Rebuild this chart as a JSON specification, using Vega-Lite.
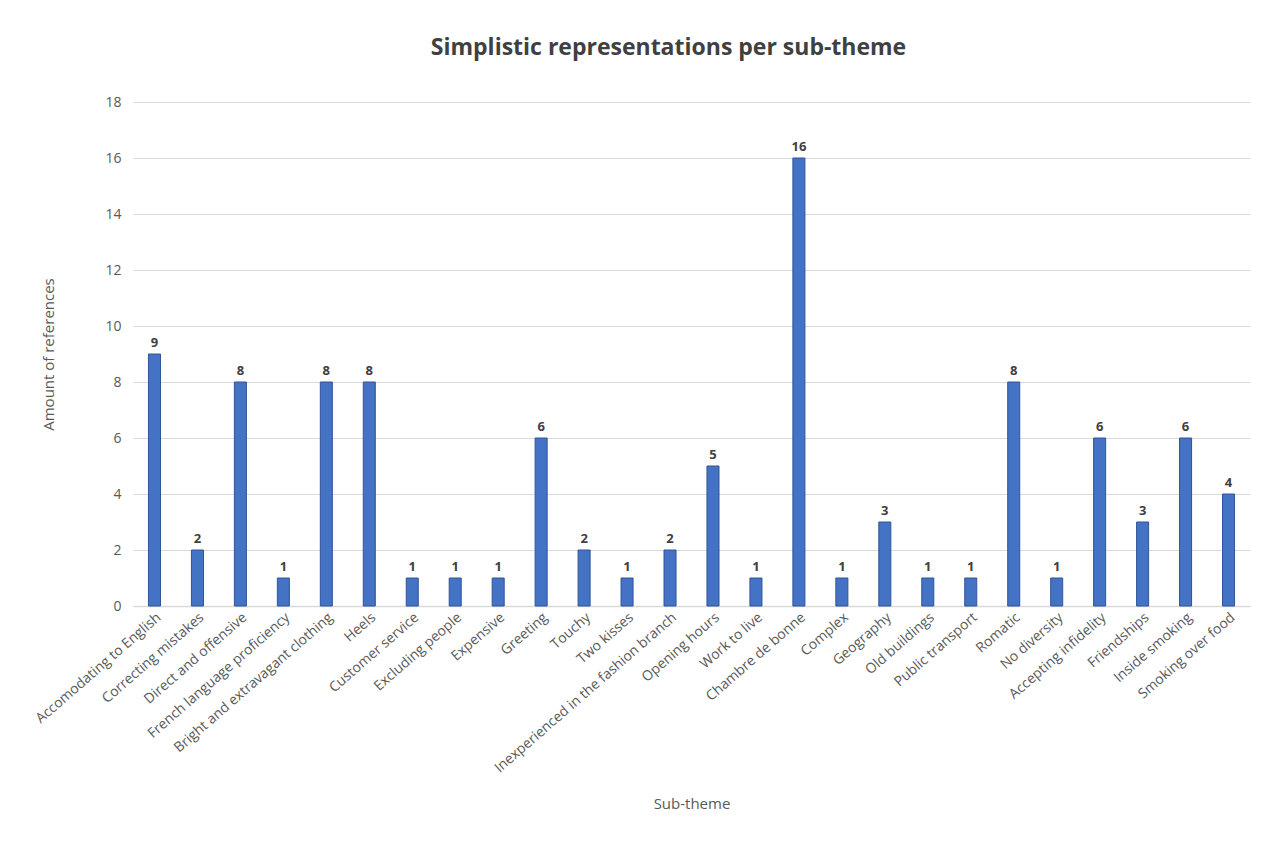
{
  "$schema": "https://vega.github.io/schema/vega-lite/v6.json",
  "autosize": "none",
  "width": 1117,
  "height": 504,
  "padding": {"left": 133, "top": 102, "right": 22, "bottom": 246},
  "background": "white",
  "title": {
    "text": "Simplistic representations per sub-theme",
    "font": "Open Sans",
    "fontSize": 23,
    "fontWeight": "bold",
    "color": "#404040",
    "offset": 35,
    "dx": -23
  },
  "data": {
    "values": [
      {"theme": "Accomodating to English", "count": 9},
      {"theme": "Correcting mistakes", "count": 2},
      {"theme": "Direct and offensive", "count": 8},
      {"theme": "French language proficiency", "count": 1},
      {"theme": "Bright and extravagant clothing", "count": 8},
      {"theme": "Heels", "count": 8},
      {"theme": "Customer service", "count": 1},
      {"theme": "Excluding people", "count": 1},
      {"theme": "Expensive", "count": 1},
      {"theme": "Greeting", "count": 6},
      {"theme": "Touchy", "count": 2},
      {"theme": "Two kisses", "count": 1},
      {"theme": "Inexperienced in the fashion branch", "count": 2},
      {"theme": "Opening hours", "count": 5},
      {"theme": "Work to live", "count": 1},
      {"theme": "Chambre de bonne", "count": 16},
      {"theme": "Complex", "count": 1},
      {"theme": "Geography", "count": 3},
      {"theme": "Old buildings", "count": 1},
      {"theme": "Public transport", "count": 1},
      {"theme": "Romatic", "count": 8},
      {"theme": "No diversity", "count": 1},
      {"theme": "Accepting infidelity", "count": 6},
      {"theme": "Friendships", "count": 3},
      {"theme": "Inside smoking", "count": 6},
      {"theme": "Smoking over food", "count": 4}
    ]
  },
  "encoding": {
    "x": {
      "field": "theme",
      "type": "nominal",
      "sort": null,
      "scale": {"paddingInner": 0.72, "paddingOuter": 0.36},
      "axis": {
        "title": "Sub-theme",
        "titleFont": "Open Sans",
        "titleFontSize": 15,
        "titleFontWeight": "normal",
        "titleColor": "#595959",
        "titlePadding": 22,
        "labelAngle": -41,
        "labelFont": "Open Sans",
        "labelFontSize": 14,
        "labelColor": "#595959",
        "labelPadding": 4,
        "labelLimit": 300,
        "ticks": false,
        "domainColor": "#D9D9D9",
        "domainWidth": 1.5
      }
    },
    "y": {
      "field": "count",
      "type": "quantitative",
      "scale": {"domain": [0, 18]},
      "axis": {
        "title": "Amount of references",
        "titleFont": "Open Sans",
        "titleFontSize": 15,
        "titleFontWeight": "normal",
        "titleColor": "#595959",
        "titlePadding": 48,
        "values": [0, 2, 4, 6, 8, 10, 12, 14, 16, 18],
        "labelFont": "Open Sans",
        "labelFontSize": 14,
        "labelColor": "#595959",
        "labelPadding": 12,
        "ticks": false,
        "domain": false,
        "gridColor": "#D9D9D9",
        "gridWidth": 1
      }
    }
  },
  "layer": [
    {
      "mark": {"type": "bar", "color": "#4472C4", "stroke": "#2F5597", "strokeWidth": 1}
    },
    {
      "mark": {
        "type": "text",
        "dy": -11,
        "font": "Open Sans",
        "fontSize": 13,
        "fontWeight": "bold",
        "color": "#404040"
      },
      "encoding": {"text": {"field": "count", "type": "quantitative"}}
    }
  ],
  "config": {"view": {"stroke": null}}
}
